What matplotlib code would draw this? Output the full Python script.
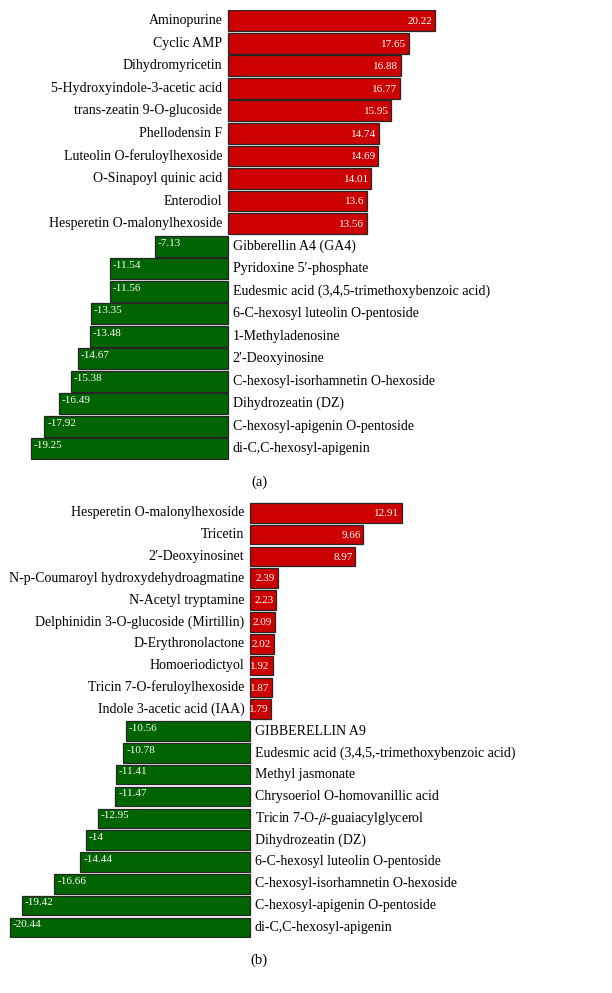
import matplotlib
matplotlib.use("Agg")
import matplotlib.pyplot as plt

plt.rcParams['font.family'] = ['Liberation Serif', 'DejaVu Serif']
plt.rcParams['mathtext.fontset'] = 'stix'

# panel (a), top to bottom
names_a = ["Aminopurine", "Cyclic AMP", "Dihydromyricetin",
           "5-Hydroxyindole-3-acetic acid", "trans-zeatin 9-O-glucoside",
           "Phellodensin F", "Luteolin O-feruloylhexoside",
           "O-Sinapoyl quinic acid", "Enterodiol", "Hesperetin O-malonylhexoside",
           "Gibberellin A4 (GA4)", "Pyridoxine 5\u2032-phosphate",
           "Eudesmic acid (3,4,5-trimethoxybenzoic acid)",
           "6-C-hexosyl luteolin O-pentoside", "1-Methyladenosine",
           "2\u2032-Deoxyinosine", "C-hexosyl-isorhamnetin O-hexoside",
           "Dihydrozeatin (DZ)", "C-hexosyl-apigenin O-pentoside",
           "di-C,C-hexosyl-apigenin"]
vals_a = [20.22, 17.65, 16.88, 16.77, 15.95, 14.74, 14.69, 14.01, 13.6, 13.56,
          -7.13, -11.54, -11.56, -13.35, -13.48, -14.67, -15.38, -16.49, -17.92, -19.25]

# panel (b), top to bottom
names_b = ["Hesperetin O-malonylhexoside", "Tricetin", "2\u2032-Deoxyinosinet",
           "N-p-Coumaroyl hydroxydehydroagmatine", "N-Acetyl tryptamine",
           "Delphinidin 3-O-glucoside (Mirtillin)", "D-Erythronolactone",
           "Homoeriodictyol", "Tricin 7-O-feruloylhexoside",
           "Indole 3-acetic acid (IAA)",
           "GIBBERELLIN A9", "Eudesmic acid (3,4,5,-trimethoxybenzoic acid)",
           "Methyl jasmonate", "Chrysoeriol O-homovanillic acid",
           "Tricin 7-O-$\\beta$-guaiacylglycerol", "Dihydrozeatin (DZ)",
           "6-C-hexosyl luteolin O-pentoside", "C-hexosyl-isorhamnetin O-hexoside",
           "C-hexosyl-apigenin O-pentoside", "di-C,C-hexosyl-apigenin"]
vals_b = [12.91, 9.66, 8.97, 2.39, 2.23, 2.09, 2.02, 1.92, 1.87, 1.79,
          -10.56, -10.78, -11.41, -11.47, -12.95, -14, -14.44, -16.66, -19.42, -20.44]

RED = '#cc0000'
GREEN = '#006400'

fig = plt.figure(figsize=(6.12, 9.93), dpi=100)


def draw_panel(ax, names, vals, xlim, tag, tag_y, bh):
    ys = list(range(len(vals)))
    colors = [RED if v > 0 else GREEN for v in vals]
    ax.barh(ys, vals, height=bh, color=colors, edgecolor='#262626', linewidth=0.9)
    for y, v, n in zip(ys, vals, names):
        if v > 0:
            ax.annotate(n, (0, y), xytext=(-4, 0), textcoords='offset points',
                        ha='right', va='center', fontsize=10)
            ax.annotate(f"{v:g}", (v, y), xytext=(-2, -0.5), textcoords='offset points',
                        ha='right', va='center', fontsize=8, color='white')
        else:
            ax.annotate(n, (0, y), xytext=(3.5, 0), textcoords='offset points',
                        ha='left', va='center', fontsize=10)
            ax.annotate(f"{v:g}", (v, y), xytext=(2, 2), textcoords='offset points',
                        ha='left', va='center', fontsize=8, color='white')
    ax.set_xlim(*xlim)
    ax.set_ylim(len(vals) - 0.5, -0.5)
    ax.axis('off')
    fig.text(259 / 612, 1 - tag_y / 993, tag, ha='center', va='center', fontsize=10.5)


ax_a = fig.add_axes([0, 1 - 460.0 / 993, 1, 450.4 / 993])
draw_panel(ax_a, names_a, vals_a, (-228 / 10.24, (612 - 228) / 10.24), "(a)", 482, 0.93)

ax_b = fig.add_axes([0, 1 - 938.4 / 993, 1, 436.6 / 993])
draw_panel(ax_b, names_b, vals_b, (-250 / 11.74, (612 - 250) / 11.74), "(b)", 960, 0.9)

fig.savefig("out.png", dpi=100)
